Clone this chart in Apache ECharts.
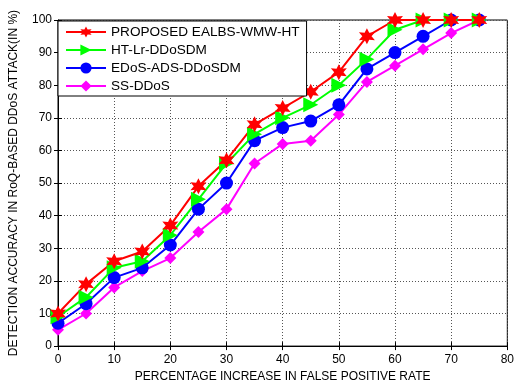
<!DOCTYPE html>
<html><head><meta charset="utf-8">
<script src="https://cdn.jsdelivr.net/npm/echarts@6/dist/echarts.min.js"></script>
<style>html,body{margin:0;padding:0;background:#fff}#c{width:517px;height:388px}</style>
</head><body><div id="c"></div>
<script>
const xValues = [0,5,10,15,20,25,30,35,40,45,50,55,60,65,70,75];
const proposed = [10,19,26,29,37,49,57,68,73,78,84,95,100,100,100,100];
const htLr = [9,15,24,26,34,45,56,65,70,74,80,88,97,100,100,100];
const edos = [7,13,21,24,31,42,50,63,67,69,74,85,90,95,100,100];
const ssDdos = [5,10,18,23,27,35,42,56,62,63,71,81,86,91,96,100];
const seriesNames = ['PROPOSED EALBS-WMW-HT','HT-Lr-DDoSDM','EDoS-ADS-DDoSDM','SS-DDoS'];
const xTicks = [0,10,20,30,40,50,60,70,80];

const hexagram = 'path://M0,-10 L2.5,-4.33 L8.66,-5 L5,0 L8.66,5 L2.5,4.33 L0,10 L-2.5,4.33 L-8.66,5 L-5,0 L-8.66,-5 L-2.5,-4.33 Z';
const pairs = arr => xValues.map((x,i)=>[x,arr[i]]);
const font = 'Liberation Sans, Arial, sans-serif';
const chart = echarts.init(document.getElementById('c'), null, {renderer:'canvas'});
const mk = (name, data, color, symbol, size, rot) => ({
  name, type:'line', data: pairs(data), symbol, symbolSize:size, symbolRotate: rot||0,
  lineStyle:{color, width:2}, itemStyle:{color, borderColor:color, borderWidth:0},
  emphasis:{disabled:true}, animation:false, z: 3
});
chart.setOption({
  animation:false,
  grid:{left:57, right:7, top:20, bottom:39, show:true, borderColor:'#000', borderWidth:1, backgroundColor:'#fff'},
  legend:{
    orient:'vertical', left:58, top:21, itemWidth:40, itemHeight:14, itemGap:4,
    backgroundColor:'#fff', borderColor:'#000', borderWidth:1, borderRadius:0,
    padding:[4,7,3,7],
    textStyle:{fontFamily:font, fontSize:13.6, color:'#000'},
    data: seriesNames
  },
  xAxis:[{
    type:'value', min:0, max:80, interval:10,
    axisLine:{show:true, lineStyle:{color:'#000'}},
    axisTick:{inside:true, length:4, lineStyle:{color:'#000'}},
    axisLabel:{fontFamily:font, fontSize:12, color:'#000', margin:8,
      formatter: v => xTicks.includes(v) ? String(v) : ''},
    splitLine:{show:true, lineStyle:{color:'#555', type:[1,2], width:1}},
    name:'PERCENTAGE INCREASE IN FALSE POSITIVE RATE', nameLocation:'middle', nameGap:22,
    nameTextStyle:{fontFamily:font, fontSize:12, color:'#000'}
  },{
    type:'value', min:0, max:80, interval:10, position:'top',
    axisLine:{show:false}, axisTick:{inside:true, length:4, lineStyle:{color:'#000'}},
    axisLabel:{show:false}, splitLine:{show:false}
  }],
  yAxis:[{
    type:'value', min:0, max:100, interval:10,
    axisLine:{show:true, lineStyle:{color:'#000'}},
    axisTick:{inside:true, length:4, lineStyle:{color:'#000'}},
    axisLabel:{fontFamily:font, fontSize:12, color:'#000', margin:6},
    splitLine:{show:true, lineStyle:{color:'#555', type:[1,2], width:1}},
    name:'DETECTION ACCURACY IN RoQ-BASED DDoS ATTACK(IN %)', nameLocation:'middle', nameGap:38,
    nameTextStyle:{fontFamily:font, fontSize:12, color:'#000'}
  },{
    type:'value', min:0, max:100, interval:10, position:'right',
    axisLine:{show:false}, axisTick:{inside:true, length:4, lineStyle:{color:'#000'}},
    axisLabel:{show:false}, splitLine:{show:false}
  }],
  series:[
    mk(seriesNames[3], ssDdos, '#ff00ff', 'diamond', 12),
    mk(seriesNames[2], edos, '#0000ff', 'circle', 13),
    mk(seriesNames[1], htLr, '#00ff00', 'triangle', 15, -90),
    mk(seriesNames[0], proposed, '#ff0000', hexagram, 16)
  ]
});
</script></body></html>
